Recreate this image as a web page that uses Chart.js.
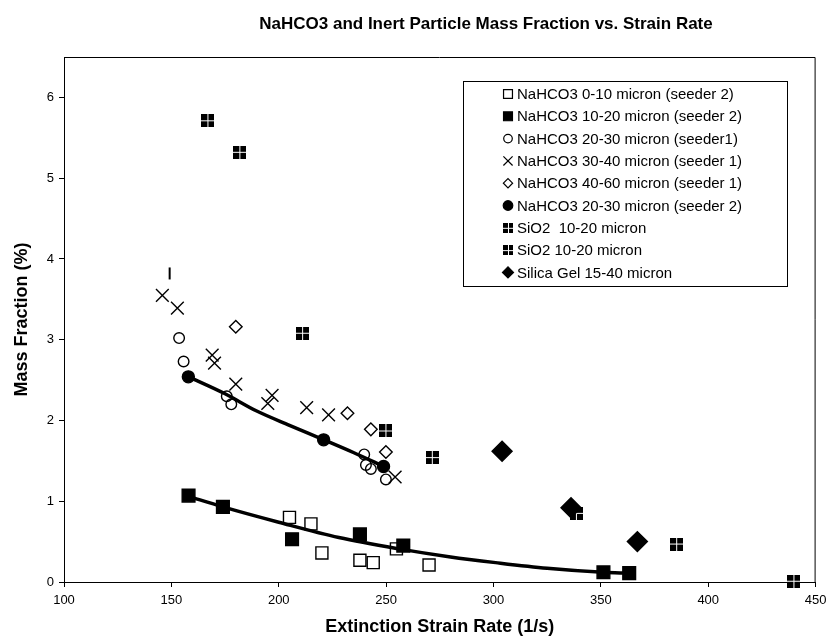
<!DOCTYPE html>
<html>
<head>
<meta charset="utf-8">
<script src="https://cdn.jsdelivr.net/npm/chart.js@4.4.0/dist/chart.umd.min.js"></script>
<style>
  body { margin: 0; background: #fff; }
  #wrap { position: relative; width: 827px; height: 639px; }
</style>
</head>
<body>
<div id="wrap"><canvas id="chart"></canvas></div>
<script>
// --- values ---
const chartTitle = 'NaHCO3 and Inert Particle Mass Fraction vs. Strain Rate';
const xTitle = 'Extinction Strain Rate (1/s)';
const yTitle = 'Mass Fraction (%)';

const seriesLabels = [
    'NaHCO3 0-10 micron (seeder 2)',
    'NaHCO3 10-20 micron (seeder 2)',
    'NaHCO3 20-30 micron (seeder1)',
    'NaHCO3 30-40 micron (seeder 1)',
    'NaHCO3 40-60 micron (seeder 1)',
    'NaHCO3 20-30 micron (seeder 2)',
    'SiO2  10-20 micron',
    'SiO2 10-20 micron',
    'Silica Gel 15-40 micron'
];

const na0to10X = [205.0, 215.0, 220.1, 237.8, 244.0, 254.8, 270.0];
const na0to10Y = [0.80, 0.72, 0.36, 0.27, 0.24, 0.41, 0.21];

const na10to20X = [158.0, 174.0, 206.2, 237.8, 258.0, 351.2, 363.2];
const na10to20Y = [1.07, 0.93, 0.53, 0.59, 0.45, 0.12, 0.11];

const na20to30s1X = [153.6, 155.7, 175.8, 177.9, 239.8, 240.6, 242.9, 249.9];
const na20to30s1Y = [3.02, 2.73, 2.30, 2.20, 1.58, 1.45, 1.40, 1.27];

const na30to40X = [145.8, 152.8, 169.0, 170.1, 180.0, 194.9, 196.9, 213.0, 223.2, 254.2];
const na30to40Y = [3.55, 3.39, 2.81, 2.71, 2.45, 2.21, 2.31, 2.16, 2.07, 1.30];

const na40to60X = [180.0, 232.0, 242.9, 249.9];
const na40to60Y = [3.16, 2.09, 1.89, 1.61];

const na20to30s2X = [157.9, 220.9, 248.8];
const na20to30s2Y = [2.54, 1.76, 1.43];

const sio2aX = [167.0, 181.9, 211.1, 249.9, 271.5];
const sio2aY = [5.71, 5.32, 3.08, 1.87, 1.54];

const sio2bX = [338.6, 385.3, 439.9];
const sio2bY = [0.85, 0.47, 0.01];

const silicaX = [304.0, 336.1, 367.0];
const silicaY = [1.62, 0.92, 0.50];

// stray vertical bar mark above the first crosses
const barMarkX = [149.2];
const barMarkY = [3.82];

// trend curves
const trendUpperX = [158, 175, 189.5, 205, 221, 235, 249];
const trendUpperY = [2.54, 2.33, 2.12, 1.94, 1.76, 1.60, 1.43];
const trendLowerX = [158, 174, 200, 228, 256, 280, 301, 325, 351, 363];
const trendLowerY = [1.06, 0.93, 0.74, 0.55, 0.41, 0.31, 0.24, 0.17, 0.12, 0.11];

const xTicks = [100, 150, 200, 250, 300, 350, 400, 450];
const yTicks = [0, 1, 2, 3, 4, 5, 6];

// --- helpers ---
const FONT = "'Liberation Sans', Arial, sans-serif";

function zip(xs, ys) {
    return xs.map((x, i) => ({ x: x, y: ys[i] }));
}

// SiO2 marker: black square split in four by a white cross
function gridMarker(size) {
    const c = document.createElement('canvas');
    c.width = size;
    c.height = size;
    const g = c.getContext('2d');
    g.fillStyle = '#000';
    g.fillRect(0, 0, size, size);
    g.fillStyle = '#fff';
    const mid = Math.floor(size / 2);
    g.fillRect(mid, 0, 1, size);
    g.fillRect(0, mid, size, 1);
    return c;
}
const sio2Big = gridMarker(13);
const sio2Small = gridMarker(10);

const NONE = 'rgba(0,0,0,0)';

function markerSet(idx, xs, ys, style, radius, fill, legendRadius, legendStyle) {
    return {
        label: seriesLabels[idx],
        data: zip(xs, ys),
        showLine: false,
        pointStyle: style,
        pointRadius: radius,
        pointHoverRadius: radius,
        pointBackgroundColor: fill,
        pointBorderColor: '#000',
        pointBorderWidth: 1.4,
        clip: false,
        order: 20 - idx,
        legendRadius: legendRadius,
        legendStyle: legendStyle || style
    };
}

const datasets = [
    markerSet(0, na0to10X, na0to10Y, 'rect', 8.5, NONE, 6.3),
    markerSet(1, na10to20X, na10to20Y, 'rect', 9, '#000', 6.3),
    markerSet(2, na20to30s1X, na20to30s1Y, 'circle', 5.3, NONE, 4.3),
    markerSet(3, na30to40X, na30to40Y, 'crossRot', 9, NONE, 6.5),
    markerSet(4, na40to60X, na40to60Y, 'rectRot', 6.3, NONE, 4.6),
    markerSet(5, na20to30s2X, na20to30s2Y, 'circle', 6, '#000', 4.8),
    markerSet(6, sio2aX, sio2aY, sio2Big, 6, '#000', 5, sio2Small),
    markerSet(7, sio2bX, sio2bY, sio2Big, 6, '#000', 5, sio2Small),
    markerSet(8, silicaX, silicaY, 'rectRot', 10, '#000', 5.5),
    {
        label: '',
        data: zip(barMarkX, barMarkY),
        showLine: false,
        pointStyle: 'line',
        pointRotation: 90,
        pointRadius: 6,
        pointBorderColor: '#000',
        pointBorderWidth: 2,
        clip: false,
        order: 5,
        noLegend: true
    },
    {
        label: '',
        data: zip(trendUpperX, trendUpperY),
        showLine: true,
        borderColor: '#000',
        borderWidth: 3.5,
        pointRadius: 0,
        cubicInterpolationMode: 'monotone',
        order: 100,
        noLegend: true
    },
    {
        label: '',
        data: zip(trendLowerX, trendLowerY),
        showLine: true,
        borderColor: '#000',
        borderWidth: 3.5,
        pointRadius: 0,
        cubicInterpolationMode: 'monotone',
        order: 100,
        noLegend: true
    }
];

// plot frame (top and right edges drawn by hand, like the original)
const framePlugin = {
    id: 'frame',
    beforeDatasetsDraw(chart) {
        const { ctx, chartArea: a } = chart;
        ctx.save();
        ctx.strokeStyle = '#000';
        ctx.lineWidth = 1;
        ctx.beginPath();
        ctx.moveTo(a.left, a.top + 0.5);
        ctx.lineTo(a.right - 0.5, a.top + 0.5);
        ctx.lineTo(a.right - 0.5, a.bottom);
        ctx.stroke();
        ctx.restore();
    }
};

// title drawn by hand so it can sit off-centre as in the picture
const titlePlugin = {
    id: 'sheetTitle',
    afterDraw(chart) {
        const ctx = chart.ctx;
        ctx.save();
        ctx.font = 'bold 17px ' + FONT;
        ctx.fillStyle = '#000';
        ctx.textAlign = 'center';
        ctx.textBaseline = 'middle';
        ctx.fillText(chartTitle, 486, 24);
        ctx.restore();
    }
};

// boxed legend inside the plot area
const legendPlugin = {
    id: 'boxLegend',
    afterDraw(chart) {
        const ctx = chart.ctx;
        const box = { left: 463, top: 81, right: 787, bottom: 286 };
        const rowH = 22.3;
        ctx.save();
        ctx.fillStyle = '#fff';
        ctx.fillRect(box.left, box.top, box.right - box.left, box.bottom - box.top);
        ctx.strokeStyle = '#000';
        ctx.lineWidth = 1;
        ctx.strokeRect(box.left + 0.5, box.top + 0.5, box.right - box.left, box.bottom - box.top);
        ctx.font = '15px ' + FONT;
        ctx.textBaseline = 'middle';
        ctx.textAlign = 'left';
        let row = 0;
        chart.data.datasets.forEach(ds => {
            if (ds.noLegend) return;
            const y = box.top + 13 + row * rowH;
            ctx.fillStyle = ds.pointBackgroundColor;
            ctx.strokeStyle = '#000';
            ctx.lineWidth = 1.2;
            Chart.helpers.drawPoint(ctx, {
                pointStyle: ds.legendStyle,
                radius: ds.legendRadius,
                rotation: 0,
                borderWidth: 1.2
            }, 508, y);
            ctx.fillStyle = '#000';
            ctx.fillText(ds.label, 517, y + 1);
            row++;
        });
        ctx.restore();
    }
};

const ctx = document.getElementById('chart').getContext('2d');
new Chart(ctx, {
    type: 'scatter',
    data: { datasets: datasets },
    options: {
        responsive: true,
        maintainAspectRatio: false,
        animation: false,
        layout: { padding: { top: 57, right: 9, left: 0, bottom: 0 } },
        plugins: {
            legend: { display: false },
            tooltip: { enabled: false },
            title: { display: false }
        },
        scales: {
            x: {
                type: 'linear',
                min: xTicks[0],
                max: xTicks[xTicks.length - 1],
                afterBuildTicks: scale => { scale.ticks = xTicks.map(v => ({ value: v })); },
                afterFit: scale => {
                    scale.height = 57;
                    scale.paddingLeft = 0;
                    scale.paddingRight = 0;
                },
                ticks: { color: '#000', font: { family: FONT, size: 13 }, padding: 6 },
                grid: { drawOnChartArea: false, drawTicks: true, tickLength: 5, color: '#000' },
                border: { display: true, color: '#000', width: 1 },
                title: {
                    display: true,
                    text: xTitle,
                    color: '#000',
                    font: { family: FONT, size: 18, weight: 'bold' },
                    padding: { top: 0, bottom: 1.5 }
                }
            },
            y: {
                type: 'linear',
                min: 0,
                max: 6.5,
                afterBuildTicks: scale => { scale.ticks = yTicks.map(v => ({ value: v })); },
                afterFit: scale => {
                    scale.width = 64;
                    scale.paddingTop = 0;
                    scale.paddingBottom = 0;
                },
                ticks: { color: '#000', font: { family: FONT, size: 13 }, padding: 5 },
                grid: { drawOnChartArea: false, drawTicks: true, tickLength: 5, color: '#000' },
                border: { display: true, color: '#000', width: 1 },
                title: {
                    display: true,
                    text: yTitle,
                    color: '#000',
                    font: { family: FONT, size: 18, weight: 'bold' },
                    padding: { top: 11, bottom: 0 }
                }
            }
        }
    },
    plugins: [framePlugin, titlePlugin, legendPlugin]
});
</script>
</body>
</html>
